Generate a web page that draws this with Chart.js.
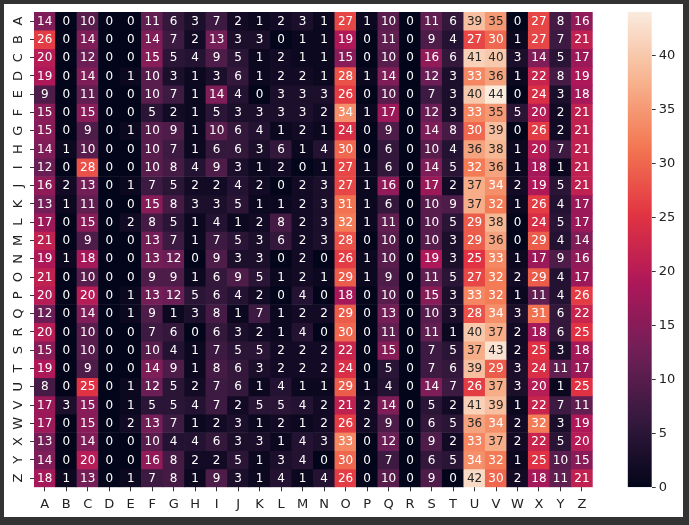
<!DOCTYPE html>
<html>
<head>
<meta charset="utf-8">
<script src="https://cdn.jsdelivr.net/npm/chart.js@4"></script>
<style>
  html, body { margin: 0; padding: 0; background: #333; }
  #wrap { position: absolute; left: 0; top: 0; width: 689px; height: 525px; }
  #panel { position: absolute; left: 4px; top: 4px; width: 679px; height: 513px; background: #fff; }
  #heat { position: absolute; left: 0; top: 0; }
  #cbar { position: absolute; left: 600px; top: 0; }
</style>
</head>
<body>
<div id="wrap">
  <div id="panel"></div>
  <canvas id="heat" width="689" height="525"></canvas>
  <canvas id="cbar" width="89" height="525"></canvas>
</div>
<script>
const rowLabels = ['A','B','C','D','E','F','G','H','I','J','K','L','M','N','O','P','Q','R','S','T','U','V','W','X','Y','Z'];
const colLabels = ['A','B','C','D','E','F','G','H','I','J','K','L','M','N','O','P','Q','R','S','T','U','V','W','X','Y','Z'];

// one row per letter on the y axis, one value per column letter
const counts = [
  [14,0,10,0,0,11,6,3,7,2,1,2,3,1,27,1,10,0,11,6,39,35,0,27,8,16],
  [26,0,14,0,0,14,7,2,13,3,3,0,1,1,19,0,11,0,9,4,27,30,1,27,7,21],
  [20,0,12,0,0,15,5,4,9,5,1,2,1,1,15,0,10,0,16,6,41,40,3,14,5,17],
  [19,0,14,0,1,10,3,1,3,6,1,2,2,1,28,1,14,0,12,3,33,36,1,22,8,19],
  [9,0,11,0,0,10,7,1,14,4,0,3,3,3,26,0,10,0,7,3,40,44,0,24,3,18],
  [15,0,15,0,0,5,2,1,5,3,3,3,3,2,34,1,17,0,12,3,33,35,5,20,2,21],
  [15,0,9,0,1,10,9,1,10,6,4,1,2,1,24,0,9,0,14,8,30,39,0,26,2,21],
  [14,1,10,0,0,10,7,1,6,6,3,6,1,4,30,0,6,0,10,4,36,38,1,20,7,21],
  [12,0,28,0,0,10,8,4,9,3,1,2,0,1,27,1,6,0,14,5,32,36,1,18,1,21],
  [16,2,13,0,1,7,5,2,2,4,2,0,2,3,27,1,16,0,17,2,37,34,2,19,5,21],
  [13,1,11,0,0,15,8,3,3,5,1,1,2,3,31,1,6,0,10,9,37,32,1,26,4,17],
  [17,0,15,0,2,8,5,1,4,1,2,8,2,3,32,1,11,0,10,5,29,38,0,24,5,17],
  [21,0,9,0,0,13,7,1,7,5,3,6,2,3,28,0,10,0,10,3,29,36,0,29,4,14],
  [19,1,18,0,0,13,12,0,9,3,3,0,2,0,26,1,10,0,19,3,25,33,1,17,9,16],
  [21,0,10,0,0,9,9,1,6,9,5,1,2,1,29,1,9,0,11,5,27,32,2,29,4,17],
  [20,0,20,0,1,13,12,5,6,4,2,0,4,0,18,0,10,0,15,3,33,32,1,11,4,26],
  [12,0,14,0,1,9,1,3,8,1,7,1,2,2,29,0,13,0,10,3,28,34,3,31,6,22],
  [20,0,10,0,0,7,6,0,6,3,2,1,4,0,30,0,11,0,11,1,40,37,2,18,6,25],
  [15,0,10,0,0,10,4,1,7,5,5,2,2,2,22,0,15,0,7,5,37,43,2,25,3,18],
  [19,0,9,0,0,14,9,1,8,6,3,2,2,2,24,0,5,0,7,6,39,29,3,24,11,17],
  [8,0,25,0,1,12,5,2,7,6,1,4,1,1,29,1,4,0,14,7,26,37,3,20,1,25],
  [17,3,15,0,1,5,5,4,7,2,5,5,4,2,21,2,14,0,5,2,41,39,1,22,7,11],
  [17,0,15,0,2,13,7,1,2,3,1,2,1,2,26,2,9,0,6,5,36,34,2,32,3,19],
  [13,0,14,0,0,10,4,4,6,3,3,1,4,3,33,0,12,0,9,2,33,37,2,22,5,20],
  [14,0,20,0,0,16,8,2,2,5,1,3,4,0,30,0,7,0,6,5,34,32,1,25,10,15],
  [18,1,13,0,1,7,8,1,9,3,1,4,1,4,26,0,10,0,9,0,42,30,2,18,11,21]
];

const cbarTicks = [0, 5, 10, 15, 20, 25, 30, 35, 40];
const vmin = 0;
const vmax = 44;

// seaborn "rocket" colormap, sampled
const rocketStops = [
  [0, [3, 5, 26]],
  [1/7, [53, 25, 62]],
  [2/7, [112, 31, 87]],
  [3/7, [173, 23, 89]],
  [4/7, [225, 51, 66]],
  [5/7, [243, 118, 81]],
  [6/7, [246, 180, 143]],
  [1, [250, 235, 221]]
];

function rocketRGB(t) {
  t = Math.max(0, Math.min(1, t));
  for (let i = 1; i < rocketStops.length; i++) {
    const [p1, c1] = rocketStops[i];
    if (t <= p1) {
      const [p0, c0] = rocketStops[i - 1];
      const f = (t - p0) / (p1 - p0);
      return c0.map((c, k) => Math.round(c + (c1[k] - c) * f));
    }
  }
  return rocketStops[rocketStops.length - 1][1];
}
const rocket = t => `rgb(${rocketRGB(t).join(',')})`;

function textColor(v) {
  const lin = rocketRGB((v - vmin) / (vmax - vmin)).map(c => {
    c /= 255;
    return c <= 0.03928 ? c / 12.92 : Math.pow((c + 0.055) / 1.055, 2.4);
  });
  const lum = 0.2126 * lin[0] + 0.7152 * lin[1] + 0.0722 * lin[2];
  return lum > 0.408 ? '#262626' : '#ffffff';
}

const FONT = '"DejaVu Sans", sans-serif';
Chart.defaults.font.family = FONT;

const annotate = {
  id: 'annotate',
  afterDatasetsDraw(chart) {
    const ctx = chart.ctx;
    ctx.save();
    ctx.font = '12px ' + FONT;
    ctx.textAlign = 'center';
    ctx.textBaseline = 'middle';
    chart.data.datasets.forEach((ds, i) => {
      chart.getDatasetMeta(i).data.forEach((bar, j) => {
        const v = counts[i][j];
        const p = bar.getCenterPoint();
        ctx.fillStyle = textColor(v);
        ctx.fillText(String(v), p.x, p.y + 0.5);
      });
    });
    ctx.restore();
  }
};

// rotated row labels on the left, placed from the y scale
const rowTickLabels = {
  id: 'rowTickLabels',
  afterDraw(chart) {
    const ctx = chart.ctx;
    const y = chart.scales.y;
    ctx.save();
    ctx.font = '13px ' + FONT;
    ctx.fillStyle = '#222';
    ctx.textAlign = 'center';
    ctx.textBaseline = 'middle';
    rowLabels.forEach((r, i) => {
      ctx.save();
      ctx.translate(chart.chartArea.left - 15, y.getPixelForValue(i + 0.5));
      ctx.rotate(-Math.PI / 2);
      ctx.fillText(r, 0, 0);
      ctx.restore();
    });
    ctx.restore();
  }
};

new Chart(document.getElementById('heat'), {
  type: 'bar',
  data: {
    labels: colLabels,
    datasets: rowLabels.map((r, i) => ({
      label: r,
      data: colLabels.map(() => [i, i + 1]),
      backgroundColor: counts[i].map(v => rocket((v - vmin) / (vmax - vmin))),
      borderWidth: 0,
      grouped: false,
      barPercentage: 1,
      categoryPercentage: 1
    }))
  },
  options: {
    responsive: false,
    animation: false,
    layout: { padding: { left: 0, top: 12, right: 96.3, bottom: 0 } },
    plugins: { legend: { display: false }, tooltip: { enabled: false } },
    scales: {
      x: {
        type: 'category',
        grid: { drawOnChartArea: false, offset: false, color: '#333', tickLength: 4 },
        border: { display: false },
        ticks: { color: '#222', font: { size: 13 }, padding: 6, autoSkip: false, maxRotation: 0 },
        afterFit: s => { s.height = 37.7; }
      },
      y: {
        type: 'linear',
        min: 0,
        max: rowLabels.length,
        reverse: true,
        afterBuildTicks: s => { s.ticks = rowLabels.map((_, i) => ({ value: i + 0.5 })); },
        grid: { drawOnChartArea: false, color: '#333', tickLength: 4 },
        border: { display: false },
        ticks: { display: false, autoSkip: false },
        afterFit: s => { s.width = 34; }
      }
    }
  },
  plugins: [annotate, rowTickLabels]
});

function cbarGradient(chart) {
  const area = chart.chartArea;
  if (!area) return null;
  const g = chart.ctx.createLinearGradient(0, area.bottom, 0, area.top);
  for (let i = 0; i <= 40; i++) g.addColorStop(i / 40, rocket(i / 40));
  return g;
}

new Chart(document.getElementById('cbar'), {
  type: 'bar',
  data: {
    labels: [''],
    datasets: [{
      data: [[vmin, vmax]],
      backgroundColor: ctx => cbarGradient(ctx.chart),
      borderWidth: 0,
      barPercentage: 1,
      categoryPercentage: 1
    }]
  },
  options: {
    responsive: false,
    animation: false,
    layout: { padding: { left: 27.7, top: 12, right: 0, bottom: 37.7 } },
    plugins: { legend: { display: false }, tooltip: { enabled: false } },
    scales: {
      x: { display: false },
      y: {
        position: 'right',
        min: vmin,
        max: vmax,
        afterBuildTicks: s => { s.ticks = cbarTicks.map(v => ({ value: v })); },
        grid: { drawOnChartArea: false, color: '#333', tickLength: 4 },
        border: { display: false },
        ticks: { color: '#222', font: { size: 13 }, padding: 3 },
        afterFit: s => { s.width = 37.3; }
      }
    }
  }
});
</script>
</body>
</html>
